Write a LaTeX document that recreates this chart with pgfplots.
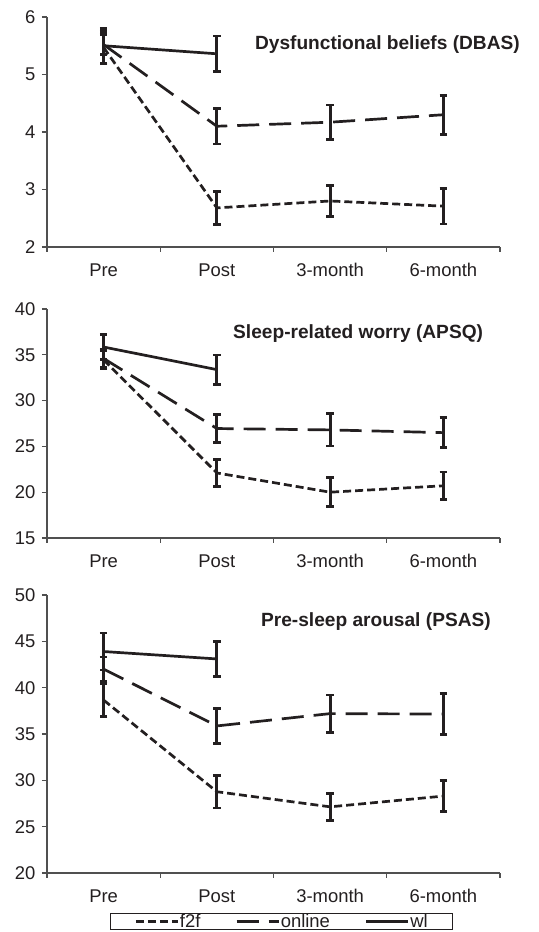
\documentclass[border=0pt]{standalone}
\usepackage{fontspec}
\setmainfont{Liberation Sans}
\usepackage{pgfplots}
\pgfplotsset{compat=1.18}
\definecolor{ink}{RGB}{35,31,32}
\definecolor{axisgray}{RGB}{80,80,80}
\tikzset{ttl/.style={anchor=east, inner sep=0pt, font=\bfseries\fontsize{19.2}{22}\selectfont, text=ink}}

\pgfplotsset{
 panel/.style={
  scale only axis, width=453bp, anchor=south west,
  xmin=-0.5, xmax=3.5,
  axis x line*=bottom, axis y line*=left,
  axis line style={axisgray, line width=1.1bp},
  xtick={0,1,2,3}, xticklabels={Pre,Post,3-month,6-month},
  minor xtick={-0.5,0.5,1.5,2.5,3.5},
  major x tick style={draw=none},
  minor tick length=5bp, major tick length=5bp,
  tick align=outside,
  tick style={axisgray, line width=1.1bp},
  ticklabel style={font=\fontsize{18.5}{22}\selectfont, text=ink},
  /pgf/number format/assume math mode=true,
  xticklabel style={yshift=-8bp},
  yticklabel style={xshift=-3bp},
  clip=false,
 },
 eb/.style={ink, line width=2.7bp, line join=round,
  error bars/y dir=both, error bars/y explicit,
  error bars/error bar style={solid, line width=2.8bp, ink},
  error bars/error mark options={rotate=90, mark size=3.8bp, line width=2.8bp, ink, solid}},
 f2f/.style={eb, dash pattern=on 8bp off 4bp},
 online/.style={eb, dash pattern=on 22bp off 10bp},
 wl/.style={eb, solid},
}

\begin{document}
\begin{tikzpicture}
% Panel 1: DBAS
\begin{axis}[panel, at={(47bp,685bp)}, height=230bp, ymin=2, ymax=6, ytick={2,3,4,5,6}]
\addplot[f2f] coordinates {(0,5.47) +- (0,0.28) (1,2.68) +- (0,0.29) (2,2.80) +- (0,0.27) (3,2.71) +- (0,0.31)};
\addplot[online] coordinates {(0,5.52) +- (0,0.17) (1,4.10) +- (0,0.31) (2,4.17) +- (0,0.30) (3,4.30) +- (0,0.34)};
\addplot[wl] coordinates {(0,5.50) +- (0,0.30) (1,5.36) +- (0,0.31)};
\node[ttl] at (rel axis cs:1.044,0.878) {Dysfunctional beliefs (DBAS)};
\end{axis}
% Panel 2: APSQ
\begin{axis}[panel, at={(47bp,394bp)}, height=229bp, ymin=15, ymax=40, ytick={15,20,25,30,35,40}]
\addplot[f2f] coordinates {(0,34.45) +- (0,1.0) (1,22.1) +- (0,1.5) (2,20.0) +- (0,1.57) (3,20.7) +- (0,1.5)};
\addplot[online] coordinates {(0,34.6) +- (0,1.0) (1,26.95) +- (0,1.55) (2,26.8) +- (0,1.75) (3,26.5) +- (0,1.65)};
\addplot[wl] coordinates {(0,35.85) +- (0,1.35) (1,33.38) +- (0,1.6)};
\node[ttl] at (rel axis cs:0.963,0.891) {Sleep-related worry (APSQ)};
\end{axis}
% Panel 3: PSAS
\begin{axis}[panel, at={(47bp,59bp)}, height=278bp, ymin=20, ymax=50, ytick={20,25,30,35,40,45,50},
  legend columns=3,
  legend style={at={(0.139,-0.144)}, anchor=north west, draw=ink, line width=1bp,
    font=\fontsize{18.5}{22}\selectfont, text=ink, inner xsep=24bp, inner ysep=0bp,
    nodes={inner sep=0.8bp},
    /tikz/every even column/.append style={column sep=34bp}},
  legend image code/.code={\draw[#1] (0bp,0bp) -- (42bp,0bp);},
  legend cell align=left]
\addplot[f2f] coordinates {(0,38.66) +- (0,1.8) (1,28.77) +- (0,1.75) (2,27.14) +- (0,1.45) (3,28.3) +- (0,1.7)};
\addlegendentry{f2f}
\addplot[online] coordinates {(0,42.0) +- (0,1.3) (1,35.87) +- (0,1.9) (2,37.2) +- (0,2.0) (3,37.15) +- (0,2.2)};
\addlegendentry{online}
\addplot[wl] coordinates {(0,43.9) +- (0,2.0) (1,43.1) +- (0,1.87)};
\addlegendentry{wl}
\node[ttl] at (rel axis cs:0.98,0.903) {Pre-sleep arousal (PSAS)};
\end{axis}
\pgfresetboundingbox
\useasboundingbox (0bp,0bp) rectangle (539bp,932bp);
\end{tikzpicture}
\end{document}
